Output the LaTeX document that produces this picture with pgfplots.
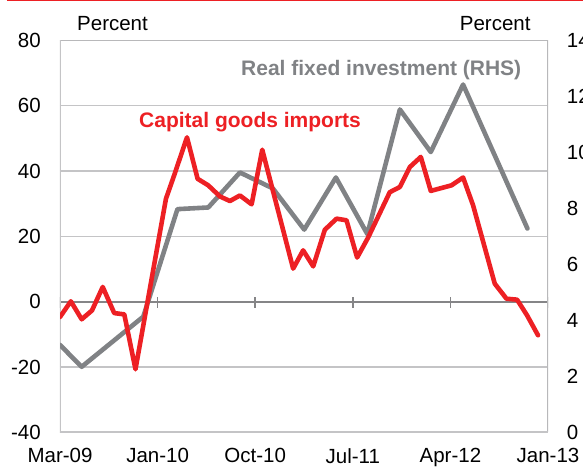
\documentclass[border=0pt]{standalone}
\usepackage{pgfplots}
\pgfplotsset{compat=1.18}
\usepackage{fontspec}
\setmainfont{Liberation Sans}
\definecolor{cred}{HTML}{ED2024}
\definecolor{cgray}{HTML}{808285}
\definecolor{cgrid}{HTML}{C4C4C6}
\definecolor{cborder}{HTML}{B8B8BA}
\definecolor{czero}{HTML}{858587}
\pgfplotstableread{
x y
0.00 -4.7
1.00 0.1
2.00 -5.4
2.95 -2.7
3.94 4.5
5.00 -3.5
5.93 -3.9
6.96 -20.7
9.77 31.5
10.53 38.7
11.71 50.3
12.69 37.6
13.67 35.6
14.75 32.2
15.67 30.8
16.59 32.5
17.67 29.8
18.65 46.5
21.50 10.1
22.42 15.7
23.35 10.8
24.42 22.0
25.50 25.4
26.42 24.9
27.40 13.5
28.41 19.6
30.41 33.5
31.34 35.1
32.26 41.2
33.27 44.3
34.19 33.9
36.10 35.6
37.17 38.0
38.09 29.5
40.09 5.5
41.17 0.9
42.15 0.6
43.07 -4.2
44.08 -10.3
}\importsdata
\pgfplotstableread{
x y
0.00 3.12
2.00 2.34
7.68 4.13
10.83 7.97
13.67 8.03
16.59 9.28
19.63 8.71
22.52 7.24
25.44 9.10
28.34 7.08
31.34 11.53
34.19 10.01
37.17 12.42
43.10 7.28
}\investdata
\pgfplotsset{
  base/.style={
    scale only axis, width=488pt, height=392pt,
    at={(0pt,0pt)}, anchor=south west,
    xmin=0, xmax=45,
    axis line style={draw=none},
    major tick length=0pt,
    ticklabel style={font=\fontsize{20.5}{24}\selectfont, text=black},
  }
}
\begin{document}
\begin{tikzpicture}
% layer 1: grid, borders, left ticks, x labels
\begin{axis}[base,
  ymin=-40, ymax=80,
  ytick={-40,-20,0,20,40,60,80},
  yticklabels={-40,-20,0,20,40,60,80},
  yticklabel style={anchor=east, inner sep=0pt, xshift=-19pt},
  xtick={0,9,18,27,36,45},
  xticklabels={Mar-09,Jan-10,Oct-10,Jul-11,Apr-12,Jan-13},
  xticklabel style={anchor=north, inner sep=0pt, yshift=-16pt},
  ymajorgrids, grid style={cgrid, line width=1.5pt},
]
\draw[czero, line width=2pt] (axis cs:0,0) -- (axis cs:45,0);
\draw[czero, line width=1.5pt] (axis cs:0,0) ++(0pt,-6pt) -- ++(0pt,11pt);
\draw[czero, line width=1.5pt] (axis cs:9,0) ++(0pt,-6pt) -- ++(0pt,11pt);
\draw[czero, line width=1.5pt] (axis cs:18,0) ++(0pt,-6pt) -- ++(0pt,11pt);
\draw[czero, line width=1.5pt] (axis cs:27,0) ++(0pt,-6pt) -- ++(0pt,11pt);
\draw[czero, line width=1.5pt] (axis cs:36,0) ++(0pt,-6pt) -- ++(0pt,11pt);
\draw[czero, line width=1.5pt] (axis cs:45,0) ++(0pt,-6pt) -- ++(0pt,11pt);
\draw[cborder, line width=1.8pt] (axis description cs:0,1) -- (axis description cs:1,1) -- (axis description cs:1,0);
\draw[cgrid, line width=2.6pt] (axis description cs:1,0) -- (axis description cs:0,0) -- (axis description cs:0,1.003);
\end{axis}
% layer 2: right axis, gray series
\begin{axis}[base,
  ymin=0, ymax=14,
  axis y line*=right, axis x line=none,
  ytick={0,2,4,6,8,10,12,14},
  yticklabels={0,2,4,6,8,10,12,14},
  yticklabel style={anchor=west, inner sep=0pt, xshift=18.7pt},
]
\addplot[cgray, line width=4.6pt, line join=round, line cap=round] table[x=x,y=y] {\investdata};
\end{axis}
% layer 3: red series
\begin{axis}[base, ymin=-40, ymax=80, hide axis]
\addplot[cred, line width=4.6pt, line join=round, line cap=round] table[x=x,y=y] {\importsdata};
\end{axis}
\node[anchor=base west, inner sep=0pt, font=\fontsize{20.5}{24}\selectfont] at (17pt,402.3pt) {Percent};
\node[anchor=base east, inner sep=0pt, font=\fontsize{20.5}{24}\selectfont] at (470.7pt,402.3pt) {Percent};
\node[anchor=base west, inner sep=0pt, font=\bfseries\fontsize{21}{24}\selectfont, text=cgray] at (181pt,357.3pt) {Real fixed investment (RHS)};
\node[anchor=base west, inner sep=0pt, font=\bfseries\fontsize{21}{24}\selectfont, text=cred] at (79pt,305pt) {Capital goods imports};
\draw[cred, line width=1.2pt] (-53pt,431.7pt) -- (523pt,431.7pt);
\pgfresetboundingbox
\useasboundingbox (-60pt,-34.7pt) rectangle (523pt,432.3pt);
\end{tikzpicture}
\end{document}
